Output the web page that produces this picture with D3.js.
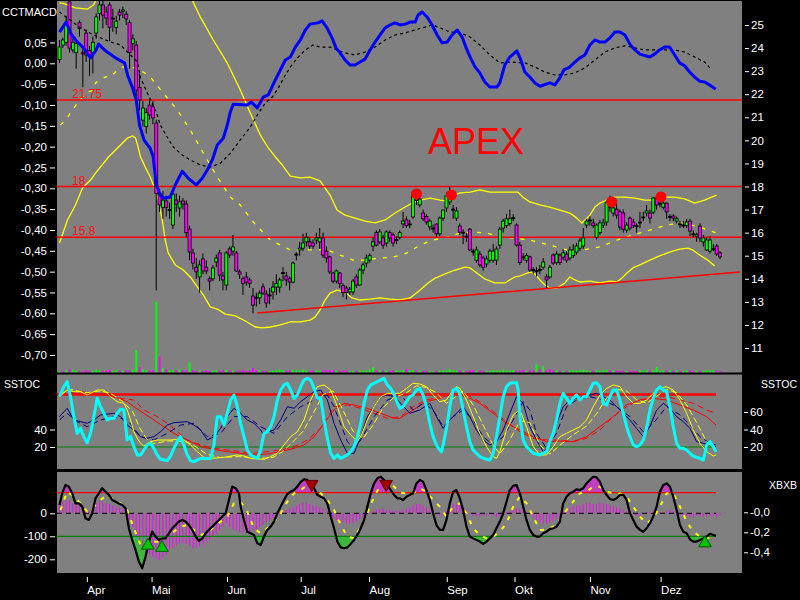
<!DOCTYPE html>
<html><head><meta charset="utf-8">
<script src="https://cdn.jsdelivr.net/npm/d3@7/dist/d3.min.js"></script>
<style>
html,body{margin:0;padding:0;background:#000;}
svg{display:block;}
text{font-family:"Liberation Sans",Arial,sans-serif;}
</style></head><body>
<svg id="chart" width="800" height="600"></svg>
<script>
// ---------------- DATA ----------------
// daily candles [open, high, low, close]
const candles = [
[23.5,24.35,23.35,24.05],[24.13,24.45,24.0,24.35],[24.25,25.4,24.1,25.0],[26.0,26.08,23.8,24.0],[23.92,24.4,23.8,24.25],
[23.8,24.3,23.1,24.2],[25.1,25.2,24.5,24.85],[23.8,24.0,22.3,23.75],[24.65,24.8,23.4,23.7],[23.9,24.1,22.8,23.7],
[23.8,24.5,22.9,24.25],[24.65,25.5,24.4,25.35],[25.5,26.05,25.2,25.87],[25.87,26.05,24.85,25.43],[25.56,25.8,25.0,25.3],
[25.87,26.0,24.3,24.9],[25.3,25.7,24.7,25.3],[24.9,25.4,24.6,25.17],[25.56,25.7,25.2,25.43],[25.6,25.8,25.3,25.65],
[25.47,25.6,25.0,25.26],[25.1,25.2,23.1,23.8],[24.2,24.6,23.9,24.4],[24.13,24.3,21.9,22.18],[22.3,22.9,21.3,21.75],
[20.88,21.7,20.6,21.4],[20.6,21.4,20.3,21.2],[21.53,21.8,20.9,21.1],[21.45,21.7,20.7,20.97],[20.75,20.9,13.5,17.7],
[17.7,17.9,16.9,17.2],[17.1,17.8,16.6,17.41],[17.37,17.6,16.7,17.1],[16.98,17.3,16.6,17.0],[16.33,17.85,16.15,17.67],
[17.41,17.7,16.9,17.24],[17.07,17.6,16.7,17.33],[17.37,17.5,17.0,17.24],[17.24,17.4,15.8,16.0],[16.15,16.3,14.8,15.16],
[15.12,15.3,14.4,14.68],[14.5,14.9,14.0,14.3],[14.08,14.8,13.4,14.6],[14.86,15.1,14.2,14.34],[14.5,14.8,14.2,14.34],
[14.0,14.1,13.5,13.9],[14.0,14.6,13.9,14.47],[14.73,15.05,14.5,14.9],[15.12,15.25,13.9,14.16],[14.12,14.3,13.5,13.95],
[13.73,15.2,13.5,15.12],[15.3,15.4,14.9,15.03],[15.2,15.9,15.0,15.38],[15.12,15.2,14.3,14.34],[14.3,14.4,14.0,14.2],
[14.0,14.1,13.3,13.8],[14.08,14.3,13.7,13.86],[13.95,14.05,13.6,13.8],[13.25,13.6,12.5,12.86],[13.2,13.4,12.8,13.17],
[13.17,13.5,12.9,13.38],[13.65,13.8,13.3,13.38],[13.34,13.5,12.75,12.95],[13.3,13.6,12.9,13.3],[13.43,13.9,13.1,13.64],
[13.64,14.2,13.3,13.8],[13.64,14.05,13.4,13.95],[14.25,14.5,13.9,14.27],[14.12,14.3,13.7,13.95],[14.0,14.1,13.5,13.86],
[13.86,14.75,13.8,14.68],[15.05,15.15,14.8,15.07],[15.25,15.6,15.0,15.33],[15.33,15.95,15.2,15.55],[15.6,16.0,15.4,15.8],
[15.6,15.8,15.3,15.42],[15.55,15.7,15.3,15.42],[15.68,16.0,15.5,15.77],[15.6,16.2,15.3,15.77],[15.77,16.0,14.9,15.03],
[15.2,15.4,14.7,14.9],[14.95,15.0,14.2,14.3],[14.25,14.3,13.8,13.9],[13.9,14.4,13.8,14.34],[14.25,14.3,13.6,13.8],
[13.7,13.8,13.2,13.4],[13.6,13.7,13.1,13.4],[13.43,13.65,13.3,13.55],[13.43,14.0,13.3,13.9],[14.08,14.2,13.6,13.73],
[13.73,14.45,13.7,14.38],[14.38,14.7,14.2,14.6],[14.68,15.05,14.5,14.9],[14.81,15.1,14.7,15.0],[15.42,15.8,15.2,15.6],
[16.0,16.1,15.4,15.46],[15.6,16.15,15.5,16.03],[15.77,15.9,15.3,15.46],[15.55,16.1,15.4,16.03],[16.0,16.1,15.6,15.77],
[15.9,16.0,15.4,15.55],[15.68,15.85,15.5,15.7],[15.8,16.1,15.7,16.0],[16.38,16.9,16.2,16.5],[16.55,16.7,16.2,16.3],
[16.37,16.55,16.2,16.38],[16.68,17.8,16.6,17.63],[17.63,17.75,17.2,17.4],[17.2,17.7,17.1,17.45],[16.85,17.0,16.5,16.6],
[16.7,16.8,16.35,16.46],[16.25,16.6,16.1,16.5],[16.2,16.35,16.0,16.2],[16.37,16.4,15.8,15.95],[15.95,16.7,15.85,16.63],
[16.63,17.0,16.5,16.98],[17.07,17.75,16.9,17.6],[17.33,18.0,17.2,17.63],[17.0,17.2,16.6,17.02],[16.63,17.1,16.5,16.94],
[16.28,16.4,15.9,16.02],[16.0,16.15,15.5,16.02],[15.85,16.0,15.6,15.83],[16.15,16.2,15.2,15.25],[15.2,15.3,15.0,15.18],
[14.8,15.4,14.7,15.25],[15.07,15.2,14.5,14.6],[14.9,15.0,14.35,14.5],[14.64,15.0,14.5,14.86],[14.81,15.3,14.7,15.2],
[14.8,15.5,14.7,15.2],[14.81,15.4,14.6,15.29],[15.46,16.25,15.3,16.15],[16.2,16.6,16.0,16.5],[16.3,16.8,16.2,16.6],
[16.4,17.0,16.3,16.6],[16.63,16.8,16.5,16.65],[16.33,16.4,15.4,15.46],[15.46,15.6,14.6,14.7],[14.95,15.1,14.8,14.94],
[14.8,15.1,14.7,15.0],[14.95,15.0,14.3,14.38],[14.4,14.5,14.2,14.38],[14.35,14.5,14.1,14.33],[14.4,14.6,14.2,14.38],
[14.5,14.9,14.4,14.73],[14.08,14.2,13.6,13.95],[14.08,14.6,14.0,14.5],[15.03,15.1,14.6,14.68],[14.7,15.2,14.6,15.07],
[15.03,15.1,14.6,14.7],[14.94,15.3,14.8,15.12],[15.07,15.2,14.7,14.81],[14.9,15.4,14.8,15.25],[15.0,15.5,14.9,15.25],
[15.16,15.55,15.05,15.42],[15.33,15.8,15.2,15.64],[15.42,16.2,15.3,15.77],[16.33,16.6,16.2,16.5],[16.55,16.7,16.3,16.55],
[16.42,16.6,16.2,16.3],[15.8,16.4,15.7,16.33],[16.0,16.55,15.9,16.42],[16.33,16.6,16.2,16.42],[16.46,17.4,16.3,17.33],
[17.37,17.6,16.9,17.1],[16.85,17.2,16.7,17.07],[17.02,17.4,16.6,16.76],[16.9,17.0,16.1,16.24],[16.85,17.0,16.0,16.15],
[16.11,16.45,16.0,16.33],[16.63,16.7,16.1,16.2],[16.46,16.6,16.2,16.3],[16.3,16.4,16.0,16.28],[16.45,16.9,16.2,16.46],
[16.67,16.9,16.5,16.68],[16.85,17.2,16.7,16.94],[16.85,17.0,16.4,16.63],[16.89,17.55,16.8,17.5],[17.5,17.55,17.0,17.2],
[17.28,17.4,17.1,17.28],[17.1,17.4,17.0,17.28],[17.28,17.3,16.6,16.9],[16.68,16.8,16.5,16.7],[16.72,16.8,16.5,16.63],
[16.5,16.7,16.4,16.6],[16.38,16.5,16.2,16.37],[16.33,16.5,16.2,16.33],[16.3,16.6,16.2,16.46],[16.5,16.6,15.85,16.07],
[15.95,16.1,15.8,15.94],[15.85,16.0,15.6,15.92],[16.28,16.4,15.6,15.77],[15.6,15.9,15.4,15.77],[15.25,15.8,15.2,15.68],
[15.2,15.85,15.1,15.68],[15.29,15.5,15.2,15.3],[15.42,15.5,15.0,15.07],[15.12,15.2,14.85,14.95]
];
// volume (sign: + up-volume green, - down-volume magenta)
const volume = [
30,-40,60,-90,80,50,-40,-30,-60,-40,50,80,60,-50,-40,-70,40,60,-40,50,
-60,-40,70,600,-150,80,60,-50,-60,1900,-430,120,-100,60,60,-60,80,-60,-50,270,
-60,-40,50,-40,-60,-40,50,60,-50,-60,70,-60,50,-40,-50,-60,-40,-50,-110,-60,
50,-40,-40,30,50,60,80,60,-40,-50,60,70,50,80,60,-40,-50,60,50,-60,
-70,-60,-50,40,-50,-40,-60,40,50,-50,60,50,60,80,140,-60,60,-50,60,-40,
-50,60,50,70,-100,60,60,-50,50,-40,-50,40,30,-40,50,60,60,80,60,50,
-60,50,-40,-50,-60,50,-60,-40,50,40,60,60,50,70,60,50,60,-40,-50,-60,
40,-50,-60,210,-80,180,-60,-90,-50,60,-40,50,-40,50,60,50,60,70,60,40,
-50,60,50,60,70,-60,60,-50,-40,-50,40,-40,-50,-40,60,50,60,-50,60,145,
40,60,-50,60,-40,50,-40,40,60,-50,-40,50,-40,50,60,50,60,-50,-40
];
// CCTMACD line and its signal [dayIndex, value]
const macdLine = [[0,0.075],[2,0.099],[3.3,0.073],[4.8,0.056],[7.2,0.037],[9.3,0.013],[11,0.032],[11.7,0.046],[13.8,0.030],[16.8,0.013],[19.5,0.001],[20.4,-0.028],[21.9,-0.059],[23,-0.088],[24,-0.149],[25.4,-0.185],[27.2,-0.204],[28.1,-0.225],[29,-0.292],[30.2,-0.316],[31.1,-0.324],[33.2,-0.321],[34.7,-0.292],[36.8,-0.259],[38.6,-0.276],[41,-0.292],[42.8,-0.276],[44.3,-0.256],[45.8,-0.232],[47.3,-0.196],[49.1,-0.180],[50.3,-0.148],[51.2,-0.117],[52.1,-0.098],[56.3,-0.100],[57.5,-0.093],[59.3,-0.107],[61.1,-0.081],[62.6,-0.076],[64.7,-0.040],[66.2,-0.016],[67.7,0.008],[69.2,0.015],[70.7,0.039],[72.2,0.056],[73.7,0.080],[75.1,0.094],[77.5,0.097],[78.7,0.102],[80.2,0.085],[81.7,0.061],[82.9,0.037],[84.1,0.025],[85.6,0.008],[87.1,-0.004],[88.6,-0.004],[90.1,0.003],[91.6,0.010],[93.1,0.032],[94.6,0.051],[96.1,0.068],[97.6,0.085],[99.1,0.092],[100.6,0.097],[102.1,0.092],[103.6,0.094],[105.1,0.099],[106.6,0.099],[107.5,0.116],[108.7,0.123],[110.2,0.111],[111.7,0.092],[113.2,0.068],[114.7,0.049],[116.2,0.051],[117.7,0.068],[119.2,0.080],[120.7,0.063],[121.9,0.037],[123.1,0.015],[124.6,-0.009],[126,-0.023],[127.5,-0.045],[129,-0.057],[131.1,-0.057],[132,-0.047],[133.5,-0.004],[135,0.015],[137.1,0.030],[138.3,0.008],[139.5,-0.021],[141,-0.033],[142.5,-0.047],[144,-0.055],[147,-0.047],[148.5,-0.052],[150,-0.035],[151.2,-0.016],[153,-0.009],[154.5,0.003],[156,0.013],[157.5,0.020],[159,0.044],[160.5,0.056],[162,0.051],[163.5,0.051],[165,0.061],[166.5,0.075],[168,0.075],[169.5,0.068],[171,0.046],[172.5,0.032],[174,0.022],[177,0.015],[178.4,0.022],[179.9,0.032],[181.4,0.039],[182.9,0.039],[184.4,0.020],[185.9,0.001],[187.4,-0.006],[188.9,-0.021],[190.4,-0.033],[191.9,-0.043],[193.4,-0.045],[194.9,-0.052],[196.7,-0.062]];
const macdSignal = [[0,0.123],[6.3,0.085],[10.2,0.068],[15.3,0.051],[18.3,0.044],[20.4,0.027],[23.4,0.003],[24.3,-0.035],[26.3,-0.071],[27.8,-0.095],[29.3,-0.124],[30.2,-0.148],[32.3,-0.177],[34.1,-0.201],[36.8,-0.220],[39.2,-0.232],[42.2,-0.244],[45.2,-0.249],[48.2,-0.240],[51.2,-0.216],[54.2,-0.184],[57.2,-0.153],[59.3,-0.124],[61.7,-0.095],[63.8,-0.081],[65.6,-0.059],[67.7,-0.028],[69.2,-0.009],[71.3,0.013],[73.7,0.032],[76,0.044],[78.1,0.039],[81.1,0.039],[83.2,0.032],[85.6,0.025],[88.6,0.020],[91.6,0.027],[94.6,0.039],[97.6,0.056],[100.6,0.068],[103.6,0.073],[106.6,0.080],[109.6,0.087],[111.7,0.092],[114.1,0.085],[117.1,0.075],[120.1,0.073],[123.1,0.063],[126,0.044],[129,0.020],[132,0.001],[135,0.003],[139.5,0.001],[142.5,-0.009],[145.5,-0.021],[148.5,-0.028],[151.5,-0.028],[154.5,-0.023],[157.5,-0.011],[160.5,0.008],[163.5,0.027],[166.5,0.037],[169.5,0.042],[172.5,0.037],[175.4,0.032],[181.4,0.032],[184.4,0.032],[187.4,0.027],[190.4,0.015],[193.4,0.003],[195.5,-0.016]];
// Bollinger bands on price
const bbUpper = [[0,25.95],[0.9,25.95],[4.8,25.74],[8.4,25.69],[10.2,25.87],[10.8,26.04],[12,26.4],[16,26.6],[20,26.7],[25,26.9],[30,27.0],[35,26.7],[38,26.3],[39.8,26.08],[42.2,25.35],[46.1,24.35],[50.3,23.35],[54.2,22.18],[57.2,21.19],[60.2,20.23],[62.6,19.67],[64.7,19.28],[66.8,18.93],[69.2,18.45],[72.2,18.37],[75.1,18.41],[78.1,18.24],[81.1,17.63],[83.2,16.98],[85.6,16.76],[88.6,16.63],[91.6,16.5],[94.6,16.42],[97.6,16.55],[100.6,16.85],[103.6,17.11],[105.7,17.28],[108.1,17.41],[111.1,17.5],[114.1,17.41],[116.2,17.37],[117.7,17.59],[120.1,17.72],[123.1,17.76],[126,17.85],[129,17.76],[132,17.76],[135,17.76],[137.4,17.76],[138.9,17.54],[141,17.33],[144,17.2],[147,17.11],[150,16.98],[153,16.85],[155.1,16.63],[156.6,16.42],[159,16.76],[160.5,17.11],[162,17.28],[164.1,17.41],[166.5,17.54],[169.5,17.54],[172.5,17.5],[175.4,17.41],[178.4,17.41],[181.4,17.54],[184.4,17.54],[187.4,17.46],[190.4,17.28],[193.4,17.41],[195.5,17.54],[197,17.63]];
const bbMiddle = [[0.3,20.67],[1.8,20.88],[5.4,21.62],[7.8,22.05],[10.2,22.18],[10.8,22.49],[13.8,22.75],[15.3,22.75],[16.8,22.96],[18.9,23.18],[23.4,23.14],[27.2,22.75],[31.1,22.05],[35.3,21.32],[39.2,20.45],[43.1,19.45],[47.3,18.41],[51.2,17.54],[54.2,17.2],[58.1,16.46],[63.2,15.68],[69.2,15.25],[74.3,15.25],[80.2,15.25],[84.1,15.03],[88,14.81],[91,14.81],[96.1,14.9],[100,14.94],[104.2,15.12],[108.1,15.46],[112,15.68],[116.2,15.81],[120.1,15.98],[124,16.03],[128.1,15.98],[132,15.81],[135.9,15.77],[141,15.68],[147,15.46],[152.1,15.25],[156.9,15.25],[162,15.38],[167.1,15.68],[171.9,15.9],[177,16.11],[182,16.33],[186.8,16.42],[191.9,16.24],[197,15.98]];
const bbLower = [[0,15.55],[2.4,16.55],[4.8,17.2],[6.9,17.93],[9.3,18.28],[10.8,18.58],[14.7,19.28],[17.7,19.71],[20.4,20.1],[21.9,20.19],[22.8,20.1],[23.4,19.8],[24.3,19.28],[25.7,18.84],[27.2,18.41],[28.7,17.85],[29.6,17.41],[30.8,16.55],[31.7,15.68],[32.6,15.12],[34.7,14.6],[37.1,14.38],[39.2,14.08],[41.3,13.65],[43.1,13.3],[45.2,12.78],[47.3,12.69],[49.7,12.47],[52.7,12.39],[55.7,12.17],[58.7,11.91],[60.8,11.87],[63.2,11.91],[66.2,12.0],[69.2,12.13],[72.2,12.13],[75.1,12.21],[76.6,12.34],[78.1,12.65],[79.6,13.08],[81.1,13.38],[83.2,13.51],[85.6,13.43],[87.7,13.17],[90.1,13.08],[93.1,13.12],[96.1,13.17],[99.1,13.12],[102.1,13.08],[105.1,13.17],[106.6,13.34],[108.1,13.51],[110.5,13.82],[112.6,14.03],[115.6,14.21],[118.6,14.38],[121.6,14.51],[123.1,14.47],[125.1,14.25],[127.5,13.99],[130.5,13.82],[133.5,13.82],[136.5,14.08],[138,14.12],[141,14.29],[142.5,14.21],[144,13.95],[145.5,13.73],[147,13.6],[149.1,13.6],[151.5,13.82],[153,14.08],[154.5,13.95],[156,13.86],[159,13.9],[162,13.82],[165,13.9],[167.1,13.86],[168.6,14.03],[170.1,14.25],[171.9,14.47],[174,14.6],[177,14.81],[179.9,14.99],[182.9,15.16],[185.9,15.29],[188.3,15.33],[189.8,15.25],[191.9,15.03],[194.3,14.81],[196.4,14.55]];
const priceLevels = [21.75, 18, 15.8];
const levelLabels = ["21.75", "18", "15.8"];
const trendLine = [[59.3,12.52],[204,14.29]];
const peakIdx = [107, 117.5, 165.5, 180.3];
const peakPrice = [17.68, 17.63, 17.33, 17.55];
const titleText = "APEX";

// SSTOC panel [dayIndex, value]
const stocCyan = [[0,78],[1.3,88.9],[2.3,94.7],[3.3,77.5],[4.3,54.7],[5.3,35.6],[6.3,41.3],[7.3,31.8],[8.3,24.9],[9.3,35.6],[10.3,54.7],[11.3,75.6],[12.3,66.1],[13.3,58.5],[14.3,50.9],[15.3,52.8],[16.3,52.8],[17.3,58.5],[18.3,63.1],[19.3,62.3],[20.3,28],[21.3,31.8],[22.3,20.4],[23.3,10.9],[24.3,10.9],[25.3,16.6],[26.3,22.3],[27.3,24.2],[28.3,18.5],[29.3,10.9],[30.3,5.9],[32.3,4.4],[33.3,9.7],[34.3,18.5],[35.3,26.1],[36.3,31.8],[37.3,22.3],[38.3,10.9],[39.3,4.4],[40.3,3.2],[42.3,7],[45.3,7],[46.3,22.3],[47.3,54.7],[48.3,54.7],[49.3,45.1],[50.3,58.5],[51.3,73.7],[52.3,79.4],[53.3,66.1],[54.3,47.1],[55.3,31.8],[56.3,16.6],[57.3,10.9],[59.3,7],[60.3,16.6],[61.3,35.6],[62.3,37.5],[63.3,43.2],[64.3,54.7],[65.3,73.7],[66.3,85.1],[67.3,90.9],[68.3,92.8],[69.3,85.1],[70.3,75.6],[71.3,79.4],[72.3,88.9],[73.3,96.6],[74.3,98.5],[75.3,96.6],[76.3,87],[77.3,75.6],[78.3,75.6],[79.3,50.9],[80.3,29.9],[81.3,12.8],[82.3,7],[83.3,10.9],[84.3,7],[86.3,10.9],[87.3,14.7],[88.3,20.4],[89.3,31.8],[90.3,47.1],[91.3,69.9],[92.3,85.1],[93.3,90.9],[95.3,94.7],[97.3,98.5],[98.3,90.9],[99.3,87],[100.3,80],[101.3,70],[102,64.2],[103,66.1],[104,71.8],[105,77.5],[106,79.4],[107,85.1],[108,87],[109,79.4],[110,66.1],[111,47.1],[112,31.8],[113,22.3],[114,16.6],[114.5,14.7],[115,22.3],[116,41.3],[117,66.1],[118,85.1],[119,87],[120,81.3],[121,62.3],[122,43.2],[123,26.1],[124,16.6],[126,9],[128,5.9],[129,5.1],[130,12.8],[131,31.8],[132,54.7],[133,77.5],[134,88.9],[135,92.8],[136,93.5],[137,93.5],[137.5,85.1],[138,54.7],[139,28],[140,20.4],[141,16.6],[142,12.8],[144,10.9],[146,14.7],[147,26.1],[148,35.6],[149,50.9],[150,69.9],[151,81.3],[152,75.6],[153,69.9],[154,75.6],[155,79.4],[156,73.7],[157,77.5],[158,77.5],[159,85.1],[160,92.8],[161,93.5],[162,88.9],[163,69.9],[164,68],[165,77.5],[166,85.1],[167,85.1],[168,73.7],[169,58.5],[170,43.2],[171,31.8],[172,22.3],[173,20.4],[174,22.3],[175,28],[176,41.3],[177,62.3],[178,75.6],[179,85.1],[180,88.9],[181,85.1],[182,83.2],[183,66.1],[184,43.2],[185,24.2],[186,18.5],[187,18.5],[188,16.6],[189,12.8],[190,9.7],[191,8.3],[192,7],[193,5.1],[193.5,12.8],[194,22.3],[195,26.1],[196,20.4],[196.8,14.7]];
const stocYellow = [[0,77.5],[2.3,85.1],[4.3,83.2],[6.3,83.2],[8.3,79.4],[10.3,83.2],[11.3,85.1],[13.3,85.1],[15.3,77.5],[17.3,71.8],[19.3,69.9],[20.3,62.3],[21.3,50.9],[22.3,37.5],[23.3,29.9],[24.3,24.2],[25.3,21.1],[27.3,26.1],[29.3,28],[33.3,28],[35.3,28.8],[37.3,28],[39.3,22.3],[41.3,14.7],[43.3,8.2],[45.3,7],[49.3,8.2],[53.3,10.9],[55.3,9.7],[57.3,7],[61.3,5.9],[63.3,9],[65.3,12.8],[67.3,22.3],[69.3,31.8],[71.3,37.5],[73.3,50.9],[75.3,73.7],[77.3,89],[79.3,90.9],[81.3,85.1],[83.3,66.1],[85.3,43.2],[87.3,33.7],[89.3,26.1],[90.3,31.8],[92.3,50.9],[94.3,66.1],[96.3,77.5],[98.3,81.3],[100.3,81.3],[102,81.3],[104,87],[106,92.8],[108,92],[110,89],[112,79.4],[114,71.8],[116,73.7],[118,85.1],[119,89],[120,87],[122,73.7],[124,54.7],[126,35.6],[128,20.4],[130,9],[131,7],[132,14.7],[134,39.4],[136,56.6],[138,62.3],[140,43.2],[142,20.4],[144,10.9],[146,10.9],[148,20.4],[150,31.8],[152,35.6],[154,39.4],[156,43.2],[158,50.9],[160,66.1],[162,79.4],[164,87],[166,90.9],[168,89],[170,77.5],[172,69.9],[174,69.9],[176,73.7],[178,81.3],[180,87],[182,89],[184,85.1],[186,73.7],[188,58.5],[190,39.4],[192,24.2],[194,14.7],[196,9.7],[196.8,10.9]];
const stocYellow2 = [[0,80],[3,86],[8,82],[12,84],[15,82],[19,72],[22,60],[24,42],[26,30],[28,24],[33,27],[38,26],[41,20],[44,12],[48,8],[54,9],[60,7],[64,8],[67,15],[70,26],[73,38],[76,58],[79,80],[82,84],[85,62],[88,38],[91,30],[94,45],[97,65],[100,76],[104,82],[107,90],[110,88],[113,82],[116,70],[119,78],[121,84],[124,68],[127,45],[130,22],[132,12],[135,28],[138,50],[141,48],[144,22],[147,12],[150,22],[154,34],[158,44],[161,58],[164,76],[167,86],[170,84],[173,74],[176,70],[179,78],[182,86],[185,82],[188,68],[191,48],[194,26],[196.8,15]];
const stocNavy = [[0,54.7],[2.3,64.2],[4.3,50.9],[6.3,49],[8.3,47.1],[10.3,50.9],[12.3,56.6],[16.3,58.5],[18.3,54.7],[20.3,45.1],[22.3,39.4],[24.3,31.8],[26.3,29.9],[28.3,31.8],[30.3,37.5],[32.3,45.1],[34.3,47.8],[38.3,49],[40.3,45.1],[42.3,39.4],[44.3,28],[46.3,31.8],[48.3,41.3],[50.3,54.7],[52.3,64.2],[54.3,58.5],[56.3,50.9],[58.3,47.1],[60.3,39.4],[61.3,33.7],[62.3,37.5],[64.3,39.4],[66.3,50.9],[68.3,66.1],[70.3,64.2],[72.3,71.8],[74.3,77.5],[76.3,83.2],[78.3,85.1],[80.3,73.7],[82.3,47.1],[84.3,28],[86.3,12.8],[88.3,12.8],[90.3,31.8],[92.3,54.7],[94.3,66.1],[96.3,77.5],[98.3,79.4],[100.3,77.5],[102.3,69.9],[105,58.5],[108,62.3],[111,69.9],[113,54.7],[115,41.3],[117,50.9],[119,58.5],[121,66.1],[123,54.7],[125,39.4],[127,28],[129,22.3],[131,26.1],[133,39.4],[135,58.5],[137,77.5],[139,69.9],[141,43.2],[143,28],[145,14.7],[147,22.3],[149,47.1],[151,66.1],[153,73.7],[157,77.5],[161,81.3],[163,77.5],[165,73.7],[167,66.1],[169,58.5],[171,50.9],[173,41.3],[175,31.8],[177,43.2],[179,62.3],[181,69.9],[183,64.2],[185,54.7],[187,49],[189,41.3],[191,26.1],[193,24.2],[195,22.3],[196.8,20.4]];
const stocNavy2 = [[0,51],[2.3,58.5],[5.3,49],[8.3,43.2],[12.3,50.9],[16.3,54.7],[20.3,50.9],[24.3,31.8],[28.3,28],[32.3,35.6],[36.3,45.1],[40.3,47.1],[44.3,31.8],[48.3,35.6],[52.3,54.7],[56.3,54.7],[60.3,43.2],[64.3,35.6],[68.3,54.7],[72.3,66.1],[76.3,73.7],[80.3,79.4],[82.3,66.1],[86.3,26.1],[88.3,18.5],[90.3,28],[94.3,54.7],[98.3,73.7],[102.3,79.4],[106,62.3],[109,69.9],[112,62.3],[115,43.2],[118,54.7],[121,62.3],[124,50.9],[127,31.8],[130,22.3],[133,31.8],[136,50.9],[139,71.8],[141,62.3],[143,35.6],[146,18.5],[149,35.6],[152,66.1],[155,73.7],[159,77.5],[163,73.7],[167,66.1],[171,54.7],[175,37.5],[178,47.1],[182,66.1],[186,56.6],[189,45.1],[192,31.8],[195,24.2],[196.8,22.3]];
const stocRed = [[0,79.4],[4.3,81.3],[10.3,81.3],[16.3,77.5],[20.3,71.8],[22.3,66.1],[25.3,58.5],[28.3,50.9],[31.3,43.2],[34.3,35.6],[37.3,29.9],[40.3,24.2],[43.3,19.6],[46.3,17.3],[50.3,14.7],[54.3,12.8],[58.3,10.9],[62.3,12],[66.3,14.7],[70.3,18.5],[73.3,22.3],[76.3,31.8],[79.3,47.1],[82.3,62.3],[85.3,69.9],[88.3,68],[92.3,64.2],[96.3,58.5],[100.3,52.8],[102,52.8],[106,62.3],[110,71.8],[114,75.6],[118,81.3],[122,77.5],[126,69.9],[130,58.5],[134,47.1],[138,39.4],[142,31.8],[146,26.1],[150,26.8],[154,26.1],[158,31.8],[162,43.2],[166,54.7],[170,68],[174,73.7],[178,75.6],[182,73.7],[186,68],[190,62.3],[194,54.7],[196.8,45.1]];
const stocRed2 = [[0,81.3],[6.3,83.2],[12.3,81.3],[18.3,75.6],[22.3,73.7],[25.3,62.3],[29.3,54.7],[32.3,47.1],[35.3,37.5],[38.3,28],[42.3,22.3],[46.3,18.5],[50.3,16.6],[54.3,14.7],[58.3,12.8],[62.3,14.7],[66.3,16.6],[70.3,20.4],[74.3,28],[78.3,41.3],[82.3,66.1],[86.3,68],[90.3,64.2],[94.3,58.5],[98.3,52.8],[102.3,54.7],[106,66.1],[110,73.7],[114,77.5],[118,81.3],[122,79.4],[126,71.8],[130,60.4],[134,49],[138,37.5],[142,29.9],[146,28],[150,28],[154,26.1],[158,29.9],[162,39.4],[166,54.7],[170,66.1],[174,73.7],[178,77.5],[182,77.5],[186,73.7],[190,69.9],[194,62.3],[196.8,58.5]];
const stocUpper = 80, stocLower = 20;

// XBXB panel
const xbxbLine = [[0,36],[0.8,87],[1.8,123],[2.8,116],[3.8,87],[4.8,43],[5.8,43],[6.8,29],[7.8,-22],[8.8,-29],[9.8,0],[10.8,65],[11.8,87],[12.8,109],[13.8,94],[14.8,80],[15.8,58],[16.8,50],[17.8,43],[18.8,36],[19.8,22],[20.8,-65],[21.8,-116],[22.8,-159],[23.8,-210],[24.8,-239],[25.8,-188],[26.8,-123],[27.8,-80],[28.8,-101],[29.8,-116],[30.8,-109],[31.8,-109],[32.8,-87],[33.8,-65],[34.8,-51],[35.8,-36],[36.8,-29],[37.8,-36],[38.8,-51],[39.8,-72],[40.8,-101],[41.8,-120],[42.8,-109],[43.8,-87],[44.8,-72],[45.8,-58],[46.8,-43],[47.8,-29],[48.8,-14],[49.8,0],[50.8,58],[51.8,116],[52.8,109],[53.8,87],[54.3,29],[55.3,-29],[56.3,-80],[57.3,-87],[58.3,-94],[59.3,-130],[60.3,-138],[61.3,-101],[62.3,-72],[63.3,-58],[64.3,-36],[65.3,0],[66.3,29],[67.3,58],[68.3,84],[69.3,94],[70.3,101],[71.3,116],[72.3,137],[73.3,148],[74.3,145],[75.3,130],[76.3,109],[77.3,80],[78.3,72],[79.3,65],[80.3,43],[81.3,-14],[82.3,-65],[83.3,-123],[84.3,-148],[85.3,-152],[86.3,-148],[87.3,-133],[88.3,-116],[89.3,-94],[90.3,-65],[91.3,-29],[92.3,29],[93.3,87],[94.3,130],[95.3,152],[96.3,159],[97.3,145],[98.3,123],[99.3,101],[100.3,80],[101.3,65],[102,65],[103,58],[104,72],[105,80],[106,87],[107,130],[108,145],[109,137],[110,101],[111,58],[112,0],[113,-51],[114,-72],[115,-72],[116,-29],[117,43],[118,94],[119,101],[120,65],[121,14],[122,-58],[123,-101],[124,-109],[126,-123],[127,-133],[128,-123],[129,-109],[130,-94],[131,-65],[132,-36],[133,0],[134,50],[135,101],[136,119],[137,123],[138,87],[139,29],[140,-29],[141,-72],[142,-94],[143,-101],[144,-101],[145,-87],[146,-80],[147,-69],[148,-65],[149,-58],[150,-36],[151,43],[152,72],[153,87],[154,94],[155,104],[156,101],[157,109],[158,130],[159,145],[160,159],[161,156],[162,137],[163,101],[164,80],[165,62],[166,58],[167,65],[168,80],[169,80],[170,58],[171,0],[172,-29],[173,-58],[174,-72],[175,-80],[176,-65],[177,-43],[178,-14],[179,29],[180,94],[181,123],[182,130],[183,116],[184,72],[185,14],[186,-51],[187,-80],[188,-87],[189,-113],[190,-123],[191,-123],[192,-116],[193,-109],[194,-101],[195,-89],[196,-94],[196.8,-98]];
const xbxbSignal = [[0.3,14.4],[2.3,94.1],[4.3,72.4],[6.3,43.4],[8.3,7.2],[10.3,28.9],[12.3,57.9],[14.3,79.6],[16.3,57.9],[18.3,43.4],[20.3,14.4],[22.3,-65.3],[24.3,-137.7],[26.3,-152.2],[28.3,-123.2],[30.3,-123.2],[32.3,-101.5],[34.3,-79.8],[36.3,-58],[38.3,-50.8],[40.3,-72.5],[42.3,-94.3],[44.3,-87],[46.3,-58],[48.3,-36.3],[50.3,-14.6],[52.3,43.4],[54.3,50.7],[56.3,7.2],[58.3,-65.3],[60.3,-87],[62.3,-65.3],[64.3,-36.3],[66.3,0],[68.3,50.7],[70.3,86.9],[72.3,101.4],[74.3,123.1],[76.3,108.6],[78.3,86.9],[80.3,57.9],[82.3,14.4],[84.3,-50.8],[86.3,-101.5],[88.3,-108.7],[90.3,-58],[92.3,0],[94.3,72.4],[96.3,123.1],[98.3,130.3],[100.3,115.9],[102,90],[104,86.9],[106,86.9],[108,108.6],[110,94.1],[112,57.9],[114,28.9],[116,-14.6],[118,28.9],[120,43.4],[122,0],[124,-65.3],[126,-94.3],[128,-108.7],[130,-101.5],[132,-79.8],[134,-43.5],[136,28.9],[138,72.4],[140,43.4],[142,-14.6],[144,-72.5],[146,-72.5],[148,-58],[150,-29],[152,14.4],[154,50.7],[156,86.9],[158,94.1],[160,115.9],[162,115.9],[164,94.1],[166,86.9],[168,86.9],[170,72.4],[172,28.9],[174,-14.6],[176,-43.5],[178,-21.8],[180,28.9],[182,86.9],[184,86.9],[186,28.9],[188,-36.3],[190,-79.8],[192,-101.5],[194,-108.7],[196.8,-98.6]];
const xbxbHist = [
40,50,60,55,45,40,35,30,20,10,25,45,55,50,45,40,35,30,25,20,10,
-30,-60,-100,-140,-160,-170,-180,-190,-200,-203,-190,-180,-160,-150,-140,-130,-130,-135,-140,-150,-150,-145,-135,-125,-115,-100,-90,-75,-60,-45,
-60,-70,-75,-80,-85,-85,-80,-75,-70,-60,-50,-40,-30,-20,-8,
5,10,15,20,25,35,40,45,45,40,35,30,25,20,10,
-10,-20,-30,-35,-40,-45,-45,-40,-35,-25,-15,-5,
5,10,15,20,20,15,15,10,10,10,
15,20,25,35,40,40,35,25,15,10,-5,-10,-10,
10,25,40,45,40,30,15,
-5,-10,-10,-15,-10,-10,-5,-10,-15,-10,-5,5,10,
15,20,20,15,5,-5,
-20,-30,-40,-45,-45,-40,-35,-25,-15,
10,20,25,30,35,35,40,45,45,40,40,45,45,40,35,30,25,20,15,10,5,
-5,-10,-10,-5,5,5,10,10,5,5,10,15,10,5,-5,-10,-10,-15,-15,-10,-10,-15,-15,-10,-10,-15,-10
];
const xbxbUpper = 90, xbxbLower = -100;
const buyMarks = [[26.5,-140],[30.7,-150],[193.5,-130]];
const sellMarks = [[75.6,127],[97.9,127]];

// axes
const monthLabels = ["Apr","Mai","Jun","Jul","Aug","Sep","Okt","Nov","Dez"];
const monthPos = [8.2,27.6,50.2,72.3,92.8,116.1,136.4,159.0,180.2];
const macdTicks = [0.05,0,-0.05,-0.10,-0.15,-0.20,-0.25,-0.30,-0.35,-0.40,-0.45,-0.50,-0.55,-0.60,-0.65,-0.70];
const priceTicks = [11,12,13,14,15,16,17,18,19,20,21,22,23,24,25];
const stocLeftTicks = [40,20], stocRightTicks = [60,40,20];
const xbxbLeftTicks = [0,-100,-200];
const xbxbRightTicks = [0,-0.2,-0.4], xbxbRightLabels = ["-0,0","-0,2","-0,4"];

// ---------------- DRAWING ----------------
const svg = d3.select("#chart");
const L = 57, R = 742;
const P1 = {t:1, b:372.5}, P2 = {t:374.5, b:469}, P3 = {t:472, b:573};
const GRAY = "#808080";

const xI = d3.scaleLinear().domain([0,198]).range([59.5,720]);
const yP = d3.scaleLinear().domain([11,25]).range([348,25]);
const yM = d3.scaleLinear().domain([-0.30,0]).range([188.3,63.3]);
const yVol = d3.scaleLinear().domain([0,2000]).range([372.5,298]);
const yS = d3.scaleLinear().domain([0,100]).range([464.5,377]);
const yX = d3.scaleLinear().domain([-200,0]).range([559.3,513.3]);
const yXR = d3.scaleLinear().domain([-0.4,0]).range([552.3,512.3]);

svg.append("rect").attr("width",800).attr("height",600).attr("fill","#000");
svg.append("text").attr("x",2).attr("y",16).attr("fill","#fff").attr("font-size",11).text("CCTMACD(0)");

const defs = svg.append("defs");
[["c1",P1],["c2",P2],["c3",P3]].forEach(([id,p])=>{
  defs.append("clipPath").attr("id",id).append("rect").attr("x",L).attr("y",p.t).attr("width",R-L).attr("height",p.b-p.t);
});
[P1,P2,P3].forEach(p=>svg.append("rect").attr("x",L).attr("y",p.t).attr("width",R-L).attr("height",p.b-p.t).attr("fill",GRAY));

function drawLine(g, data, y, color, width, dash){
  const ln = d3.line().x(d=>xI(d[0])).y(d=>y(d[1]));
  const p = g.append("path").datum(data).attr("d",ln).attr("fill","none")
    .attr("stroke",color).attr("stroke-width",width).attr("stroke-linejoin","round");
  if(dash) p.attr("stroke-dasharray",dash);
  return p;
}

// ---- Panel 1 ----
const g1 = svg.append("g").attr("clip-path","url(#c1)");
g1.selectAll("rect.vol").data(volume).join("rect").attr("class","vol")
  .attr("x",(d,i)=>xI(i)-1).attr("width",2)
  .attr("y",d=>yVol(Math.abs(d))).attr("height",d=>yVol(0)-yVol(Math.abs(d)))
  .attr("fill",d=>d>=0?"#00ff00":"#ff00ff");
drawLine(g1,bbUpper,yP,"#ffff00",1.3);
drawLine(g1,bbLower,yP,"#ffff00",1.3);
drawLine(g1,bbMiddle,yP,"#ffff00",1.3,"4,7");
g1.selectAll("line.lvl").data(priceLevels).join("line").attr("class","lvl")
  .attr("x1",L).attr("x2",R).attr("y1",d=>yP(d)).attr("y2",d=>yP(d))
  .attr("stroke","#ff0000").attr("stroke-width",1.5);
g1.selectAll("text.lvl").data(priceLevels).join("text").attr("class","lvl")
  .attr("x",72).attr("y",d=>yP(d)-2).attr("fill","#ff1010").attr("font-size",12)
  .text((d,i)=>levelLabels[i]);
drawLine(g1,trendLine,yP,"#ff0000",1.5);
const cg = g1.append("g");
cg.selectAll("line.wick").data(candles).join("line").attr("class","wick")
  .attr("x1",(d,i)=>xI(i)).attr("x2",(d,i)=>xI(i))
  .attr("y1",d=>yP(d[1])).attr("y2",d=>yP(d[2]))
  .attr("stroke","#000").attr("stroke-width",1);
cg.selectAll("rect.body").data(candles).join("rect").attr("class","body")
  .attr("x",(d,i)=>xI(i)-1.5).attr("width",3)
  .attr("y",d=>yP(Math.max(d[0],d[3])))
  .attr("height",d=>Math.max(1,Math.abs(yP(d[0])-yP(d[3]))))
  .attr("fill",d=>Math.abs(d[3]-d[0])<0.04?"#000":(d[3]>d[0]?"#00ff00":"#ff00ff"))
  .attr("stroke","#000").attr("stroke-width",0.8);
drawLine(g1,macdSignal,yM,"#000",1.2,"3,3");
drawLine(g1,macdLine,yM,"#0000ff",3);
g1.selectAll("circle.pk").data(peakIdx).join("circle").attr("class","pk")
  .attr("cx",d=>xI(d)).attr("cy",(d,i)=>yP(peakPrice[i])).attr("r",5.5).attr("fill","#ff0000");
g1.append("text").attr("x",428).attr("y",154).attr("fill","#ff0000").attr("font-size",36).text(titleText);

// ---- Panel 2 ----
const g2 = svg.append("g").attr("clip-path","url(#c2)");
const xEnd = xI(196.8);
[[stocUpper,"#ff0000",2.5],[stocLower,"#008000",1]].forEach(([v,c,w])=>{
  g2.append("line").attr("x1",L).attr("x2",xEnd).attr("y1",yS(v)).attr("y2",yS(v)).attr("stroke",c).attr("stroke-width",w);
});
drawLine(g2,stocRed2,yS,"#ff0000",1,"6,4");
drawLine(g2,stocRed,yS,"#ff0000",1);
drawLine(g2,stocNavy2,yS,"#000080",1,"6,4");
drawLine(g2,stocNavy,yS,"#000080",1);
drawLine(g2,stocYellow2,yS,"#ffff00",1,"6,3");
drawLine(g2,stocYellow,yS,"#ffff00",1);
drawLine(g2,stocCyan,yS,"#00ffff",3);

// ---- Panel 3 ----
const g3 = svg.append("g").attr("clip-path","url(#c3)");
const areaUp = d3.area().x(d=>xI(d[0])).y0(yX(xbxbUpper)).y1(d=>yX(Math.max(d[1],xbxbUpper)));
const areaDn = d3.area().x(d=>xI(d[0])).y0(yX(xbxbLower)).y1(d=>yX(Math.min(d[1],xbxbLower)));
g3.append("path").datum(xbxbLine).attr("d",areaUp).attr("fill","#c040c0");
g3.append("path").datum(xbxbLine).attr("d",areaDn).attr("fill","#3cb83c");
g3.selectAll("line.h").data(xbxbHist).join("line").attr("class","h")
  .attr("x1",(d,i)=>xI(i)).attr("x2",(d,i)=>xI(i))
  .attr("y1",yX(0)).attr("y2",d=>yX(d)).attr("stroke","#ff00ff").attr("stroke-width",1);
g3.append("line").attr("x1",L).attr("x2",xEnd).attr("y1",yX(0)).attr("y2",yX(0))
  .attr("stroke","#000").attr("stroke-width",1).attr("stroke-dasharray","5,4");
g3.append("line").attr("x1",L).attr("x2",xEnd).attr("y1",yX(xbxbUpper)).attr("y2",yX(xbxbUpper)).attr("stroke","#ff0000").attr("stroke-width",1.2);
g3.append("line").attr("x1",L).attr("x2",xEnd).attr("y1",yX(xbxbLower)).attr("y2",yX(xbxbLower)).attr("stroke","#008000").attr("stroke-width",1.2);
drawLine(g3,xbxbSignal,yX,"#ffff00",2,"4,7");
drawLine(g3,xbxbLine,yX,"#000",2.2);
const tri = d3.symbol().type(d3.symbolTriangle).size(70);
g3.selectAll("path.buy").data(buyMarks).join("path").attr("class","buy").attr("d",tri)
  .attr("transform",d=>`translate(${xI(d[0])},${yX(d[1])})`).attr("fill","#00c000").attr("stroke","#006000");
g3.selectAll("path.sell").data(sellMarks).join("path").attr("class","sell").attr("d",tri)
  .attr("transform",d=>`translate(${xI(d[0])},${yX(d[1])}) rotate(180)`).attr("fill","#a00000").attr("stroke","#600000");

// ---- Axes ----
function styleAxis(g){
  g.select(".domain").remove();
  g.selectAll(".tick line").attr("stroke","#fff");
  g.selectAll(".tick text").attr("fill","#fff").attr("font-size",11.5).attr("font-family","'Liberation Sans',Arial,sans-serif");
}
const fmtM = v => (Math.abs(v)<1e-9?0:v).toFixed(2).replace(".",",");
svg.append("g").attr("transform","translate(55,0)")
  .call(d3.axisLeft(yM).tickValues(macdTicks).tickSize(5).tickPadding(3).tickFormat(fmtM)).call(styleAxis);
svg.append("g").attr("transform","translate(745,0)")
  .call(d3.axisRight(yP).tickValues(priceTicks).tickSize(4).tickPadding(2).tickFormat(d=>String(d))).call(styleAxis);
svg.append("g").attr("transform","translate(55,0)")
  .call(d3.axisLeft(yS).tickValues(stocLeftTicks).tickSize(5).tickPadding(3).tickFormat(d=>String(d))).call(styleAxis);
svg.append("g").attr("transform","translate(744,0)")
  .call(d3.axisRight(yS).tickValues(stocRightTicks).tickSize(4).tickPadding(2).tickFormat(d=>String(d))).call(styleAxis);
svg.append("g").attr("transform","translate(55,0)")
  .call(d3.axisLeft(yX).tickValues(xbxbLeftTicks).tickSize(5).tickPadding(3).tickFormat(d=>String(d))).call(styleAxis);
svg.append("g").attr("transform","translate(744,0)")
  .call(d3.axisRight(yXR).tickValues(xbxbRightTicks).tickSize(4).tickPadding(2).tickFormat((d,i)=>xbxbRightLabels[i])).call(styleAxis);
const xa = svg.append("g").attr("transform","translate(0,577)")
  .call(d3.axisBottom(xI).tickValues(monthPos).tickSize(5).tickPadding(4).tickFormat((d,i)=>monthLabels[i])).call(styleAxis);
xa.selectAll(".tick text").attr("text-anchor","start");

// panel labels
svg.append("text").attr("x",4).attr("y",388).attr("fill","#fff").attr("font-size",10.5).text("SSTOC");
svg.append("text").attr("x",797).attr("y",388).attr("text-anchor","end").attr("fill","#fff").attr("font-size",10.5).text("SSTOC");
svg.append("text").attr("x",797).attr("y",489).attr("text-anchor","end").attr("fill","#fff").attr("font-size",10.5).text("XBXB");
</script>
</body></html>
